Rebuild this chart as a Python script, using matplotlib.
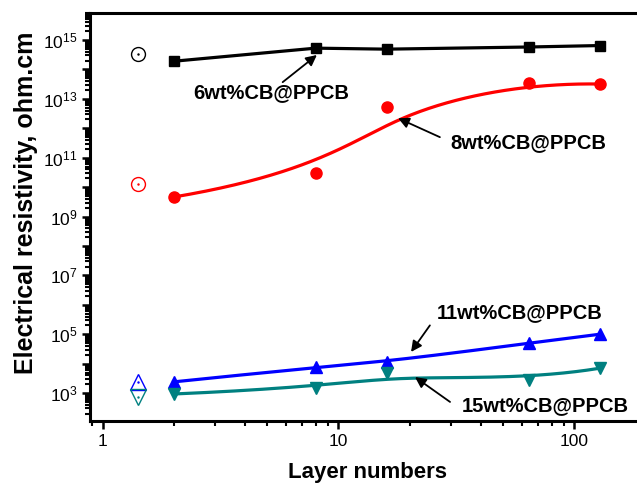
import numpy as np
import matplotlib
matplotlib.use("Agg")
import matplotlib.pyplot as plt
from matplotlib.ticker import LogLocator, FuncFormatter, NullFormatter

plt.rcParams["font.family"] = ["Liberation Sans", "DejaVu Sans"]
plt.rcParams["mathtext.fontset"] = "custom"
plt.rcParams["mathtext.rm"] = "Liberation Sans"
plt.rcParams["mathtext.it"] = "Liberation Sans"

layers = [2, 8, 16, 64, 128]
cb6 = [1.9e14, 5.3e14, 4.9e14, 5.8e14, 6.5e14]
cb8 = [4.6e9, 3.0e10, 5.2e12, 3.5e13, 3.2e13]
cb11 = [2.4e3, 7.6e3, 1.1e4, 5.0e4, 1.0e5]
cb15 = [930, 1.5e3, 4.8e3, 2.8e3, 7.0e3]

# reference (bulk) samples drawn as open markers
ref_x = 1.41
ref_vals = {"6": 3.3e14, "8": 1.26e10, "11": 2.4e3, "15": 7.3e2}


def bspline(xs, ys, n=200):
    # clamped cubic B-spline in log-log space, data points as control points
    px = np.log10(xs)
    py = np.log10(ys)
    k = 3
    m = len(px)
    inner = np.linspace(0, 1, m - k + 1)[1:-1]
    t = np.concatenate([np.zeros(k + 1), inner, np.ones(k + 1)])
    u = np.linspace(0, 1 - 1e-9, n)

    def basis(i, d, u):
        if d == 0:
            return ((t[i] <= u) & (u < t[i + 1])).astype(float)
        a = 0.0 if t[i + d] == t[i] else (u - t[i]) / (t[i + d] - t[i]) * basis(i, d - 1, u)
        b = 0.0 if t[i + d + 1] == t[i + 1] else (t[i + d + 1] - u) / (t[i + d + 1] - t[i + 1]) * basis(i + 1, d - 1, u)
        return a + b

    B = np.array([basis(i, k, u) for i in range(m)])
    return 10 ** (B.T @ px), 10 ** (B.T @ py)


fig = plt.figure(figsize=(6.37, 4.86), dpi=100)
ax = fig.add_axes([0.1413, 0.1337, 0.872, 0.8396])

lw = 2.3
ax.plot(layers, cb6, color="black", lw=lw, marker="s", ms=7.5)

for vals, col, mk, ms in [(cb8, "red", "o", 8), (cb11, "blue", "^", 9), (cb15, "#008080", "v", 9)]:
    sx, sy = bspline(layers, vals)
    ax.plot(sx, sy, color=col, lw=lw)
    ax.plot(layers, vals, ls="none", color=col, marker=mk, ms=ms)

for key, col, mk, ms in [("6", "black", "o", 10), ("8", "red", "o", 10),
                         ("11", "blue", "^", 12), ("15", "#008080", "v", 12)]:
    ax.plot(ref_x, ref_vals[key], ls="none", marker=mk, ms=ms, mfc="none", mec=col, mew=1.0)
    ax.plot(ref_x, ref_vals[key], ls="none", marker=".", ms=1.5, color=col)

ax.set_xscale("log")
ax.set_yscale("log")
ax.set_xlim(0.885, 200)
ax.set_ylim(10 ** 2.05, 10 ** 15.92)

ax.yaxis.set_major_locator(LogLocator(base=10, numticks=30))
ax.yaxis.set_minor_locator(LogLocator(base=10, subs=np.arange(2, 10), numticks=30))
ax.yaxis.set_major_formatter(FuncFormatter(
    lambda v, p: r"$10^{%d}$" % round(np.log10(v)) if round(np.log10(v)) % 2 == 1 else ""))
ax.yaxis.set_minor_formatter(NullFormatter())
ax.xaxis.set_major_formatter(FuncFormatter(lambda v, p: "%g" % v))
ax.xaxis.set_minor_formatter(NullFormatter())

for s in ax.spines.values():
    s.set_linewidth(2.2)
ax.tick_params(which="major", direction="out", length=6, width=1.8, labelsize=12.5, pad=3)
ax.tick_params(which="minor", direction="out", length=3.5, width=1.5)

ax.set_xlabel("Layer numbers", fontsize=16, fontweight="bold", labelpad=10)
ax.set_ylabel("Electrical resistivity, ohm.cm", fontsize=18, fontweight="bold")
ax.yaxis.set_label_coords(-0.094, 0.534)

arrow = dict(arrowstyle="-|>", color="black", lw=1.3, mutation_scale=16, shrinkA=0, shrinkB=0)
labels = [
    ("6wt%CB@PPCB", (5.18, 1.7e13), (5.8, 3.7e13), (8.1, 3.1e14)),
    ("8wt%CB@PPCB", (63.5, 3.2e11), (26.9, 5.0e11), (17.9, 2.2e12)),
    ("11wt%CB@PPCB", (58.7, 5.3e5), (24.4, 2.0e5), (20.3, 2.5e4)),
    ("15wt%CB@PPCB", (75, 390), (29.7, 500), (21.1, 3.5e3)),
]
for txt, pos, tail, head in labels:
    ax.text(pos[0], pos[1], txt, fontsize=14.5, fontweight="bold", ha="center", va="center")
    ax.annotate("", xy=head, xytext=tail, arrowprops=arrow)

fig.savefig("out.png", dpi=100)
